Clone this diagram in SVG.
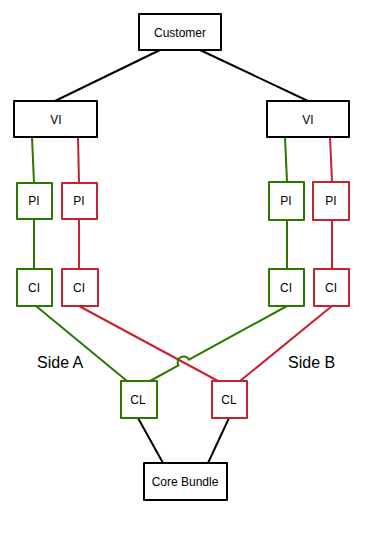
<svg xmlns="http://www.w3.org/2000/svg" width="368" height="538" viewBox="0 0 368 538">
<style>
.box{fill:#fff;stroke-width:2;stroke-linejoin:round}
.k{stroke:#000}
.g{stroke:#2D7600}
.r{stroke:#C8202F}
.ln{fill:none;stroke-width:2}
text{font-family:"Liberation Sans",Arial,sans-serif;font-size:12px;fill:#000;text-anchor:middle;dominant-baseline:central}
.side{font-size:16px;text-anchor:start;dominant-baseline:auto}
</style>
<rect width="368" height="538" fill="#fff"/>
<g id="connectors">
<line class="ln k" x1="160" y1="50" x2="55" y2="101"/>
<line class="ln k" x1="200" y1="50" x2="308" y2="101"/>
<line class="ln g" x1="32" y1="137" x2="34" y2="183"/>
<line class="ln r" x1="78" y1="137" x2="79" y2="183"/>
<line class="ln g" x1="34" y1="219" x2="34" y2="269"/>
<line class="ln r" x1="79" y1="219" x2="79" y2="269"/>
<line class="ln g" x1="285" y1="137" x2="287" y2="182"/>
<line class="ln r" x1="330" y1="137" x2="332" y2="182"/>
<line class="ln g" x1="287" y1="220" x2="287" y2="269"/>
<line class="ln r" x1="332" y1="220" x2="332" y2="269"/>
<line class="ln g" x1="36" y1="306" x2="127" y2="381"/>
<line class="ln r" x1="79" y1="306" x2="218" y2="381"/>
<path class="ln g" d="M287 306 L189 359.6 A6 6 0 0 0 178.4 365.4 L150 381"/>
<line class="ln r" x1="332" y1="306" x2="240" y2="381"/>
<line class="ln k" x1="138" y1="418" x2="163" y2="463"/>
<line class="ln k" x1="229" y1="418" x2="208" y2="463"/>
</g>
<g id="customer"><rect class="box k" x="139" y="14" width="82" height="36"/><text x="180" y="33">Customer</text></g>
<g id="vi-left"><rect class="box k" x="14" y="101" width="83" height="36"/><text x="56" y="120">VI</text></g>
<g id="vi-right"><rect class="box k" x="267" y="101" width="82" height="36"/><text x="308" y="120">VI</text></g>
<g id="pi-left-green"><rect class="box g" x="17" y="183" width="35" height="36"/><text x="34" y="201">PI</text></g>
<g id="pi-left-red"><rect class="box r" x="62" y="183" width="35" height="36"/><text x="79" y="201">PI</text></g>
<g id="pi-right-green"><rect class="box g" x="269" y="182" width="35" height="38"/><text x="286" y="201">PI</text></g>
<g id="pi-right-red"><rect class="box r" x="313" y="182" width="36" height="38"/><text x="331" y="201">PI</text></g>
<g id="ci-left-green"><rect class="box g" x="17" y="269" width="35" height="37"/><text x="34" y="288">CI</text></g>
<g id="ci-left-red"><rect class="box r" x="62" y="269" width="36" height="37"/><text x="79" y="288">CI</text></g>
<g id="ci-right-green"><rect class="box g" x="269" y="269" width="35" height="37"/><text x="286" y="288">CI</text></g>
<g id="ci-right-red"><rect class="box r" x="314" y="269" width="35" height="37"/><text x="331" y="288">CI</text></g>
<g id="cl-green"><rect class="box g" x="121" y="381" width="36" height="37"/><text x="138" y="400">CL</text></g>
<g id="cl-red"><rect class="box r" x="212" y="381" width="35" height="37"/><text x="229" y="400">CL</text></g>
<g id="core-bundle"><rect class="box k" x="144" y="463" width="83" height="37"/><text x="185" y="482">Core Bundle</text></g>
<g id="side-a"><text class="side" x="37" y="368">Side A</text></g>
<g id="side-b"><text class="side" x="288" y="368">Side B</text></g>
</svg>
